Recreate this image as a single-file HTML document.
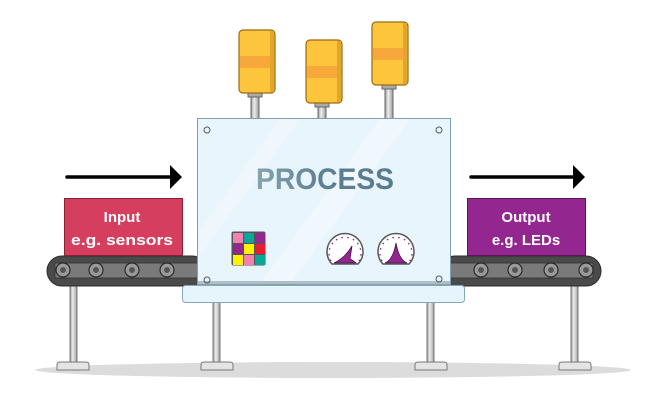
<!DOCTYPE html>
<html><head><meta charset="utf-8"><style>
html,body{margin:0;padding:0;background:#fff;}
svg{display:block;}
text{font-family:"Liberation Sans",sans-serif;}
</style></head><body>
<svg width="648" height="405" viewBox="0 0 648 405" xmlns="http://www.w3.org/2000/svg">
<defs>
<linearGradient id="leg" x1="0" x2="1"><stop offset="0" stop-color="#9a9a9a"/><stop offset="0.4" stop-color="#eee"/><stop offset="1" stop-color="#9a9a9a"/></linearGradient>
<linearGradient id="txt" x1="0" x2="1"><stop offset="0" stop-color="#86a3b1"/><stop offset="0.5" stop-color="#5c7f91"/><stop offset="1" stop-color="#587b8d"/></linearGradient>
</defs>
<ellipse cx="333" cy="370" rx="298" ry="8" fill="#dcdcdc"/>
<g stroke="#777" stroke-width="1">
<rect x="70" y="284" width="7" height="79" fill="url(#leg)"/>
<rect x="213" y="300" width="7" height="63" fill="url(#leg)"/>
<rect x="427" y="300" width="7" height="63" fill="url(#leg)"/>
<rect x="571" y="284" width="7" height="79" fill="url(#leg)"/>
<path d="M57 370 v-5 q0-3 3-3 h26 q3 0 3 3 v5z" fill="#e4e4e4"/>
<path d="M201 370 v-5 q0-3 3-3 h26 q3 0 3 3 v5z" fill="#e4e4e4"/>
<path d="M415 370 v-5 q0-3 3-3 h26 q3 0 3 3 v5z" fill="#e4e4e4"/>
<path d="M559 370 v-5 q0-3 3-3 h26 q3 0 3 3 v5z" fill="#e4e4e4"/>
</g>
<rect x="47" y="256" width="160" height="30" rx="15" fill="#4a4a4a" stroke="#2a2a2a"/>
<rect x="55" y="263" width="152" height="15" fill="#7a7a7a" stroke="#333" stroke-width="0.8"/>
<rect x="440" y="256" width="161" height="30" rx="15" fill="#4a4a4a" stroke="#2a2a2a"/>
<rect x="440" y="263" width="153" height="15" fill="#7a7a7a" stroke="#333" stroke-width="0.8"/>
<g fill="#9a9a9a" stroke="#2a2a2a" stroke-width="1.2">
<circle cx="63" cy="270" r="7"/><circle cx="96" cy="270" r="7"/><circle cx="132" cy="270" r="7"/><circle cx="167" cy="270" r="7"/>
<circle cx="481" cy="270" r="7"/><circle cx="515" cy="270" r="7"/><circle cx="551" cy="270" r="7"/><circle cx="586" cy="270" r="7"/>
</g>
<g fill="#555"><circle cx="63" cy="270" r="3"/><circle cx="96" cy="270" r="3"/><circle cx="132" cy="270" r="3"/><circle cx="167" cy="270" r="3"/><circle cx="481" cy="270" r="3"/><circle cx="515" cy="270" r="3"/><circle cx="551" cy="270" r="3"/><circle cx="586" cy="270" r="3"/></g>
<rect x="64.5" y="198.5" width="118" height="57" fill="#d53e5e" stroke="#8a2035"/>
<text x="122" y="222" font-size="15" font-weight="bold" fill="#fff" text-anchor="middle">Input</text>
<text x="122" y="245" font-size="15" font-weight="bold" fill="#fff" text-anchor="middle" textLength="102" lengthAdjust="spacingAndGlyphs">e.g. sensors</text>
<rect x="467.5" y="198.5" width="118" height="57" fill="#93278f" stroke="#5c1459"/>
<text x="526" y="222" font-size="15" font-weight="bold" fill="#fff" text-anchor="middle">Output</text>
<text x="526" y="245" font-size="15" font-weight="bold" fill="#fff" text-anchor="middle">e.g. LEDs</text>
<line x1="67" y1="177" x2="172" y2="177" stroke="#000" stroke-width="3.5" stroke-linecap="round"/>
<path d="M170 165 L182 177 L170 189z" fill="#000"/>
<line x1="471" y1="177" x2="575" y2="177" stroke="#000" stroke-width="3.5" stroke-linecap="round"/>
<path d="M573 165 L585 177 L573 189z" fill="#000"/>
<g stroke="#666" stroke-width="1">
<rect x="251" y="92" width="8" height="27" fill="url(#leg)"/>
<rect x="318" y="102" width="8" height="17" fill="url(#leg)"/>
<rect x="385" y="84" width="8" height="35" fill="url(#leg)"/>
<rect x="248" y="92" width="14" height="5" fill="#aaa"/>
<rect x="315" y="102" width="14" height="5" fill="#aaa"/>
<rect x="382" y="84" width="14" height="5" fill="#aaa"/>
</g>
<g stroke="#9a6a10" stroke-width="1.2">
<rect x="239" y="30" width="36" height="63" rx="4" fill="#fdc53c"/>
<rect x="306" y="40" width="36" height="63" rx="4" fill="#fdc53c"/>
<rect x="372" y="22" width="36" height="63" rx="4" fill="#fdc53c"/>
</g>
<rect x="239.6" y="56" width="34.8" height="12" fill="#f6a83a"/>
<rect x="306.6" y="66" width="34.8" height="12" fill="#f6a83a"/>
<rect x="372.6" y="48" width="34.8" height="12" fill="#f6a83a"/>
<g fill="#e2a62a"><rect x="270" y="31" width="4" height="61"/><rect x="337" y="41" width="4" height="61"/><rect x="403" y="23" width="4" height="61"/></g>
<rect x="182.5" y="285.5" width="282" height="17" rx="3" fill="#e6f4fc" stroke="#86a8ba"/>
<rect x="197.5" y="118.5" width="253" height="166" fill="#e8f5fc" stroke="#7f9fb0"/>
<path d="M260 284 L380 119 L410 119 L290 284z" fill="#f3f9fd" opacity="0.8"/>
<path d="M200 230 L280 119 L300 119 L200 255z" fill="#f3f9fd" opacity="0.6"/>
<rect x="198" y="281" width="252" height="3" fill="#aebfc8"/>
<text x="325" y="189" font-size="30" font-weight="bold" fill="url(#txt)" text-anchor="middle" textLength="138" lengthAdjust="spacingAndGlyphs">PROCESS</text>
<g fill="none" stroke="#555" stroke-width="1"><circle cx="207" cy="130" r="3"/><circle cx="439" cy="130" r="3"/><circle cx="207" cy="280" r="3"/><circle cx="439" cy="279" r="3"/></g>
<rect x="231.5" y="231.5" width="34" height="34" rx="2" fill="#555"/>
<g>
<rect x="233" y="233" width="10" height="10" fill="#f57fb0"/><rect x="244" y="233" width="10" height="10" fill="#0aa69a"/><rect x="255" y="233" width="10" height="10" fill="#93278f"/>
<rect x="233" y="244" width="10" height="10" fill="#93278f"/><rect x="244" y="244" width="10" height="10" fill="#fdf200"/><rect x="255" y="244" width="10" height="10" fill="#ea1c2d"/>
<rect x="233" y="255" width="10" height="10" fill="#fdf200"/><rect x="244" y="255" width="10" height="10" fill="#f57fb0"/><rect x="255" y="255" width="10" height="10" fill="#0aa69a"/>
</g>
<g>
<path d="M332 264 A18 18 0 1 1 358 264 Z" fill="#fff" stroke="#555" stroke-width="1.5"/>
<path d="M334 263 Q345 258 352 246 L350 259 Q354 261 356 263Z" fill="#93278f" stroke="#4a1248" stroke-width="0.8"/>
<path d="M383 264 A18 18 0 1 1 409 264 Z" fill="#fff" stroke="#555" stroke-width="1.5"/>
<path d="M385 263 Q393 260 396 243 Q399 260 407 263Z" fill="#93278f" stroke="#4a1248" stroke-width="0.8"/>
<g stroke="#93278f" stroke-width="1.4" stroke-dasharray="1.5 4.4" fill="none">
<path d="M331 261 A16 16 0 1 1 359 261"/>
<path d="M382 261 A16 16 0 1 1 410 261"/>
</g>
</g>
</svg>
</body></html>
